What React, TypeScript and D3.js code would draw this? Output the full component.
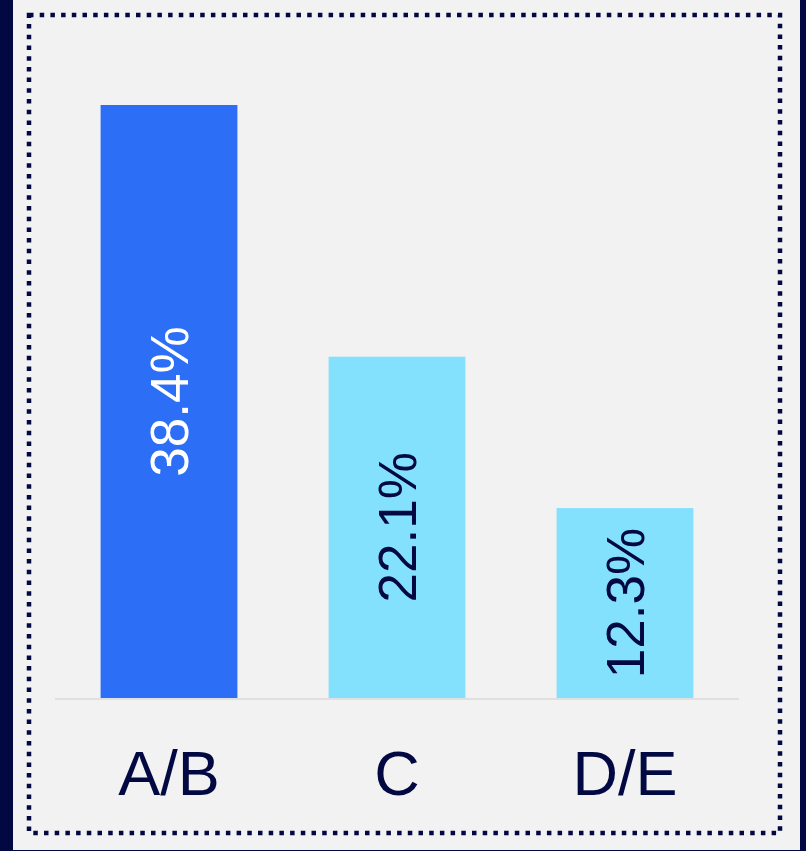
import React from "react";
import * as d3 from "d3";

const categories = ["A/B", "C", "D/E"];
const values = [38.4, 22.1, 12.3];
const labels = ["38.4%", "22.1%", "12.3%"];
const barColors = ["#2c6ef5", "#84e1fe", "#84e1fe"];
const labelColors = ["#ffffff", "#020842", "#020842"];

const W = 806;
const H = 851;
const NAVY = "#020842";

export default function App() {
  const x = d3.scaleBand<string>().domain(categories).range([55, 739]).paddingInner(0.4).paddingOuter(0.2);
  const y = d3.scaleLinear().domain([0, 38.4]).range([698, 105]);
  return (
    <svg width={W} height={H} style={{ position: "absolute", left: 0, top: 0, display: "block" }} fontFamily="Liberation Sans, Arial, sans-serif">
      <rect x={0} y={0} width={W} height={H} fill={NAVY} />
      <rect x={13} y={0} width={787} height={850} fill="#f2f2f2" />
      <rect x={29} y={15} width={751} height={818} fill="none" stroke={NAVY} strokeWidth={4.5} strokeDasharray="4.5 6.2" />
      {categories.map((c, i) => {
        const bx = x(c)!;
        const cx = bx + x.bandwidth() / 2;
        const top = y(values[i]);
        const mid = (top + y(0)) / 2;
        return (
          <g key={c}>
            <rect x={bx} y={top} width={x.bandwidth()} height={y(0) - top} fill={barColors[i]} />
            <text
              transform={`translate(${cx},${mid}) rotate(-90)`}
              textAnchor="middle"
              dominantBaseline="central"
              fontSize={53}
              fill={labelColors[i]}
            >
              {labels[i]}
            </text>
            <text x={cx} y={795} textAnchor="middle" fontSize={63} fill={NAVY}>
              {c}
            </text>
          </g>
        );
      })}
      <line x1={55} x2={739} y1={y(0) + 1} y2={y(0) + 1} stroke="#e0e0e0" strokeWidth={2} />
    </svg>
  );
}
